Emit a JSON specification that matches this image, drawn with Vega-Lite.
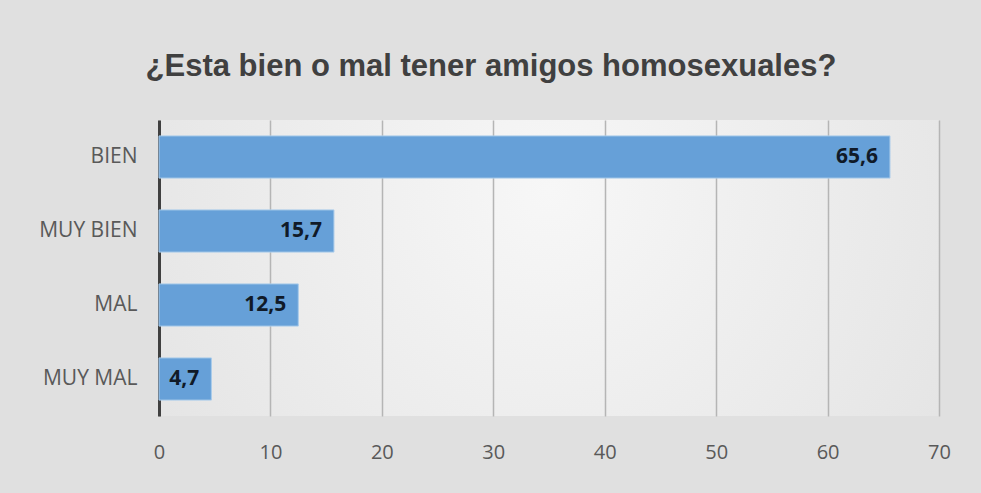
{
  "$schema": "https://vega.github.io/schema/vega-lite/v6.json",
  "width": 780,
  "height": 296,
  "autosize": {"type": "none"},
  "padding": {"left": 159, "top": 120, "right": 42, "bottom": 77},
  "background": "#e0e0e0",
  "title": {
    "text": "¿Esta bien o mal tener amigos homosexuales?",
    "font": "Liberation Sans",
    "fontSize": 31,
    "fontWeight": "bold",
    "color": "#404040",
    "anchor": "middle",
    "frame": "group",
    "baseline": "alphabetic",
    "offset": 13,
    "dx": -58
  },
  "data": {
    "values": [
      {"respuesta": "BIEN", "porcentaje": 65.6, "etiqueta": "65,6"},
      {"respuesta": "MUY BIEN", "porcentaje": 15.7, "etiqueta": "15,7"},
      {"respuesta": "MAL", "porcentaje": 12.5, "etiqueta": "12,5"},
      {"respuesta": "MUY MAL", "porcentaje": 4.7, "etiqueta": "4,7"}
    ]
  },
  "encoding": {
    "y": {
      "field": "respuesta",
      "type": "nominal",
      "sort": null,
      "scale": {"paddingInner": 0.43, "paddingOuter": 0.215},
      "axis": {
        "title": null,
        "ticks": false,
        "domainColor": "#404040",
        "domainWidth": 3,
        "labelFont": "Open Sans",
        "labelFontSize": 21,
        "labelColor": "#595959",
        "labelPadding": 22,
        "grid": false
      }
    },
    "x": {
      "field": "porcentaje",
      "type": "quantitative",
      "scale": {"domain": [0, 70], "nice": false},
      "axis": {
        "title": null,
        "values": [0, 10, 20, 30, 40, 50, 60, 70],
        "ticks": false,
        "domain": false,
        "grid": true,
        "gridColor": "#b5b5b5",
        "gridWidth": 1.5,
        "labelFont": "Open Sans",
        "labelFontSize": 20,
        "labelColor": "#595959",
        "labelPadding": 26,
        "labelFlush": false
      }
    }
  },
  "layer": [
    {
      "mark": {"type": "bar", "color": "#66a0d8", "stroke": "#a9cbea", "strokeWidth": 1}
    },
    {
      "mark": {
        "type": "text",
        "align": "right",
        "dx": -12,
        "font": "Open Sans",
        "fontSize": 21,
        "fontWeight": "bold",
        "color": "#101a28"
      },
      "encoding": {"text": {"field": "etiqueta"}}
    }
  ],
  "config": {
    "view": {
      "stroke": null,
      "fill": {
        "gradient": "radial",
        "x1": 0.5, "y1": 0.4, "r1": 0,
        "x2": 0.5, "y2": 0.4, "r2": 0.8,
        "stops": [
          {"offset": 0, "color": "#f7f7f7"},
          {"offset": 1, "color": "#dedede"}
        ]
      }
    }
  }
}
